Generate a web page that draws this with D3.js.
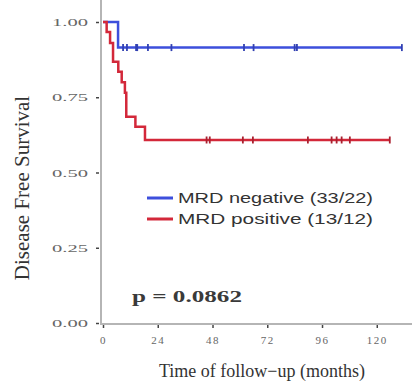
<!DOCTYPE html>
<html>
<head>
<meta charset="utf-8">
<script src="https://cdn.jsdelivr.net/npm/d3@7"></script>
<style>
  body { margin: 0; background: #fff; }
  #chart { width: 412px; height: 388px; }
</style>
</head>
<body>
<div id="chart"></div>
<script>
// Kaplan-Meier steps: [month, survival]
const negSteps = [[0, 1.0], [6.6, 0.915], [131, 0.915]];
const posSteps = [[0, 1.0], [1.6, 0.967], [3.1, 0.93], [4.4, 0.868], [6.7, 0.835], [8.2, 0.80],
                  [9.6, 0.765], [10.2, 0.685], [14.2, 0.652], [18.4, 0.608], [125.7, 0.608]];
// censored times
const negCensor = [8.8, 10.5, 14.5, 15, 19.7, 30, 61.8, 66, 84, 85, 131];
const posCensor = [45.4, 46.8, 61.3, 65.7, 89.8, 100.2, 102.4, 104.6, 108.2, 125.7];

const xTicks = [0, 24, 48, 72, 96, 120];
const yTicks = [0, 0.25, 0.5, 0.75, 1];
const legendLabels = ["MRD negative (33/22)", "MRD positive (13/12)"];
const pText = "p = 0.0862";

const width = 412, height = 388;
const blue = "#3d4fdc", red = "#d3283a";

const svg = d3.select("#chart").append("svg")
    .attr("width", width)
    .attr("height", height);

const x = d3.scaleLinear().domain([0, 135]).range([103, 411]);
const y = d3.scaleLinear().domain([0, 1]).range([323, 22]);

// axis lines (grey)
svg.append("line")
    .attr("x1", 101).attr("x2", 101).attr("y1", 0).attr("y2", 324)
    .attr("stroke", "#b5b5b5").attr("stroke-width", 2);
svg.append("line")
    .attr("x1", 100).attr("x2", width).attr("y1", 324).attr("y2", 324)
    .attr("stroke", "#b5b5b5").attr("stroke-width", 2);

// y axis
const yAxis = svg.append("g")
    .attr("transform", "translate(99,0)")
    .call(d3.axisLeft(y).tickValues(yTicks).tickFormat(d3.format(".2f")).tickSize(3).tickPadding(8));
yAxis.select(".domain").remove();
yAxis.selectAll("line").attr("stroke", "#444").attr("stroke-width", 1.5);
yAxis.selectAll("text")
    .attr("font-family", "'Liberation Serif', 'DejaVu Serif', serif")
    .attr("font-size", 11)
    .attr("fill", "#666")
    .attr("textLength", 36)
    .attr("lengthAdjust", "spacingAndGlyphs");

// x axis
const xAxis = svg.append("g")
    .attr("transform", "translate(0,325)")
    .call(d3.axisBottom(x).tickValues(xTicks).tickSize(3).tickPadding(8));
xAxis.select(".domain").remove();
xAxis.selectAll("line").attr("stroke", "#444").attr("stroke-width", 1.5);
xAxis.selectAll("text")
    .attr("font-family", "'Liberation Serif', 'DejaVu Serif', serif")
    .attr("font-size", 11)
    .attr("fill", "#666")
    .attr("letter-spacing", 1.5);

// curves
const line = d3.line()
    .x(d => x(d[0]))
    .y(d => y(d[1]))
    .curve(d3.curveStepAfter);

svg.append("path")
    .datum(negSteps)
    .attr("d", line)
    .attr("fill", "none")
    .attr("stroke", blue)
    .attr("stroke-width", 2.5);

svg.append("path")
    .datum(posSteps)
    .attr("d", line)
    .attr("fill", "none")
    .attr("stroke", red)
    .attr("stroke-width", 2.5);

// censor marks
function censorMarks(times, level, color) {
    svg.append("g").selectAll("line")
        .data(times)
        .enter()
        .append("line")
        .attr("x1", d => x(d)).attr("x2", d => x(d))
        .attr("y1", y(level) - 3.5).attr("y2", y(level) + 3.5)
        .attr("stroke", d3.rgb(color).darker(0.6))
        .attr("stroke-width", 1.8);
}
censorMarks(negCensor, 0.915, blue);
censorMarks(posCensor, 0.608, red);

// legend
const legend = svg.append("g");
legendLabels.forEach((label, i) => {
    const ly = 198 + i * 21;
    legend.append("line")
        .attr("x1", 147).attr("x2", 173).attr("y1", ly).attr("y2", ly)
        .attr("stroke", i === 0 ? blue : red)
        .attr("stroke-width", 3);
    legend.append("text")
        .attr("x", 178).attr("y", ly + 5)
        .attr("font-family", "'Liberation Sans', Arial, sans-serif")
        .attr("font-size", 15)
        .attr("fill", "#333")
        .attr("textLength", 195)
        .attr("lengthAdjust", "spacingAndGlyphs")
        .text(label);
});

// p value
svg.append("text")
    .attr("x", 132).attr("y", 302)
    .attr("font-family", "'Liberation Serif', 'DejaVu Serif', serif")
    .attr("font-size", 17)
    .attr("font-weight", "bold")
    .attr("fill", "#3a3a3a")
    .attr("textLength", 110)
    .attr("lengthAdjust", "spacingAndGlyphs")
    .text(pText);

// axis titles
svg.append("text")
    .attr("x", 262).attr("y", 377)
    .attr("text-anchor", "middle")
    .attr("font-family", "'Liberation Serif', 'DejaVu Serif', serif")
    .attr("font-size", 18)
    .attr("fill", "#333")
    .text("Time of follow\u2212up (months)");

svg.append("text")
    .attr("transform", "translate(29,188) rotate(-90)")
    .attr("text-anchor", "middle")
    .attr("font-family", "'Liberation Serif', 'DejaVu Serif', serif")
    .attr("font-size", 21)
    .attr("fill", "#333")
    .text("Disease Free Survival");
</script>
</body>
</html>
